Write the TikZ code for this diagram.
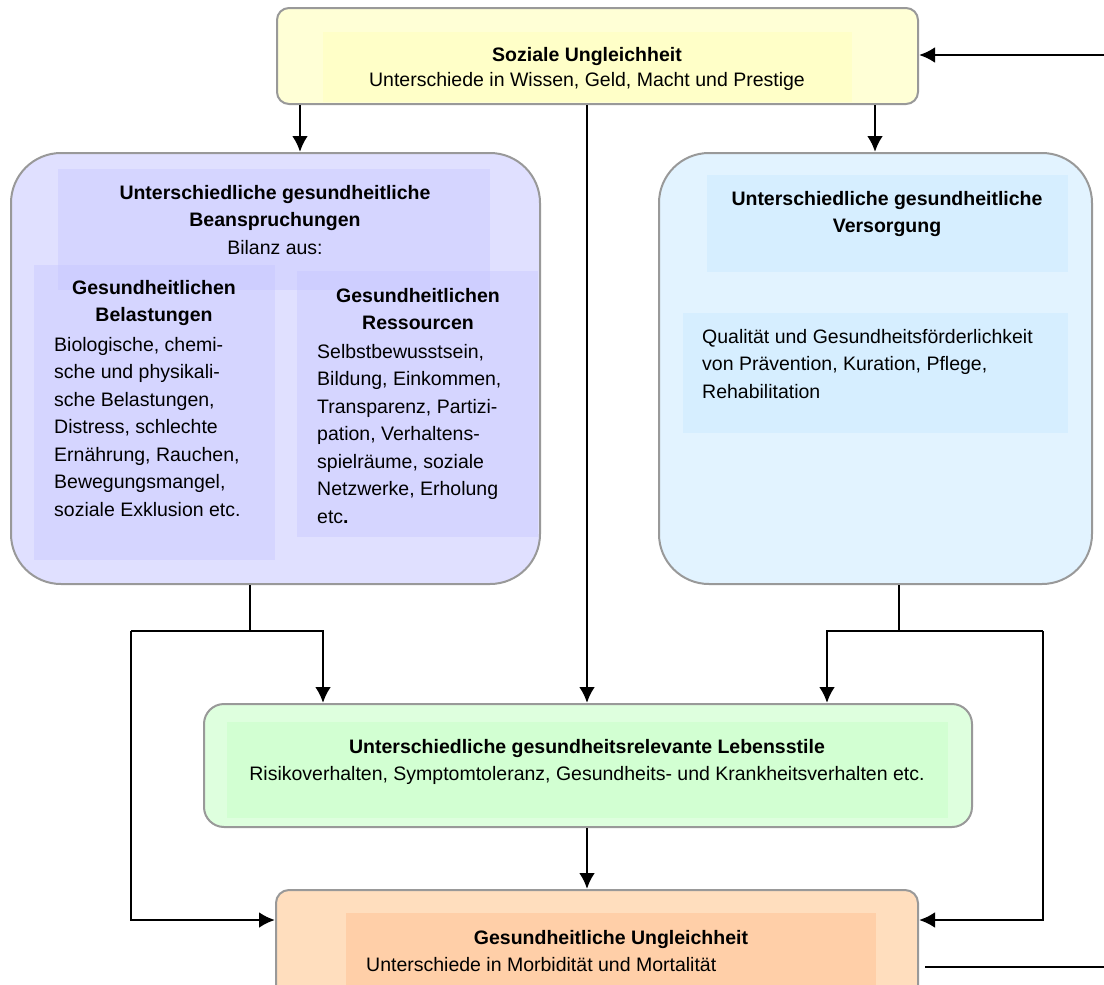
\documentclass[tikz,border=0pt]{standalone}
\usepackage{fontspec}
\setmainfont{Liberation Sans}
\usepackage{tikz}
\usetikzlibrary{arrows.meta}
\usetikzlibrary{positioning}
\definecolor{rahmen}{rgb}{0.6, 0.6, 0.6}
\definecolor{gelb}{RGB}{255, 255, 214}
\definecolor{gelbinnen}{RGB}{255, 255, 200}
\definecolor{lila}{RGB}{224, 224, 255}
\definecolor{lilainnen}{RGB}{190, 190, 255}
\definecolor{hellblau}{RGB}{226, 243, 255}
\definecolor{blauinnen}{RGB}{214, 238, 255}
\definecolor{gruen}{RGB}{222, 255, 222}
\definecolor{grueninnen}{RGB}{210, 255, 210}
\definecolor{orange}{RGB}{255, 222, 190}
\definecolor{orangeinnen}{RGB}{255, 207, 168}
\newcommand{\schrift}{\fontsize{19.5}{27.5}\selectfont}
\tikzset{kasten/.style = {draw = rahmen, line width = 2, anchor = north west,
                          inner sep = 0}}
\tikzset{txt/.style = {inner sep = 0, font = \schrift, anchor = north}}
\tikzset{linie/.style = {line width = 2.9}}
\tikzset{pfeil/.style = {linie, -{Latex[length = 16, width = 16]}}}

\begin{document}
\begin{tikzpicture}[x = 1pt, y = -1pt]
      \clip (0, 0) rectangle (1104, 985);

      % Kaesten
      \node [kasten, fill = gelb, rounded corners = 12,
             minimum width = 641, minimum height = 96] (soz) at (276, 7) {};
      \node [kasten, fill = lila, rounded corners = 50,
             minimum width = 529, minimum height = 431] (belast) at (10, 152) {};
      \node [kasten, fill = hellblau, rounded corners = 50,
             minimum width = 433, minimum height = 431] (versorg) at (658, 152) {};
      \node [kasten, fill = gruen, rounded corners = 20,
             minimum width = 768, minimum height = 123] (lebens) at (203, 703) {};
      \node [kasten, fill = orange, rounded corners = 13,
             minimum width = 642, minimum height = 130] (gesund) at (275, 889) {};

      % Textfelder
      \fill [gelbinnen] (323, 32) rectangle (852, 102);
      \fill [lilainnen, fill opacity = 0.3] (58, 169) rectangle (490, 290);
      \fill [lilainnen, fill opacity = 0.3] (34, 265) rectangle (275, 560);
      \fill [lilainnen, fill opacity = 0.3] (297, 271) rectangle (538, 537);
      \fill [blauinnen] (707, 175) rectangle (1068, 272);
      \fill [blauinnen] (683, 313) rectangle (1068, 433);
      \fill [grueninnen] (227, 722) rectangle (948, 818);
      \fill [orangeinnen] (346, 913) rectangle (876, 1000);

      \node [txt, align = center, font = \fontsize{19.5}{25}\selectfont] (sozt) at (587, 47)
            {\textbf{Soziale Ungleichheit}\\ Unterschiede in Wissen, Geld, Macht und Prestige};

      \node [txt, align = center] (belastt) at (275, 185)
            {\textbf{Unterschiedliche gesundheitliche}\\ \textbf{Beanspruchungen}\\ Bilanz aus:};
      \node [txt, align = center, font = \schrift\bfseries] (lastk) at (154, 280)
            {Gesundheitlichen\\ Belastungen};
      \node [txt, align = left, anchor = north west] (lastt) at (54, 337)
            {Biologische, chemi-\\ sche und physikali-\\ sche Belastungen,\\ Distress, schlechte\\
             Ernährung, Rauchen,\\ Bewegungsmangel,\\ soziale Exklusion etc.};
      \node [txt, align = center, font = \schrift\bfseries] (ressk) at (418, 288)
            {Gesundheitlichen\\ Ressourcen};
      \node [txt, align = left, anchor = north west] (resst) at (317, 344)
            {Selbstbewusstsein,\\ Bildung, Einkommen,\\ Transparenz, Partizi-\\ pation, Verhaltens-\\
             spielräume, soziale\\ Netzwerke, Erholung\\ etc\textbf{.}};

      \node [txt, align = center, font = \schrift\bfseries] (versorgk) at (887, 191)
            {Unterschiedliche gesundheitliche\\ Versorgung};
      \node [txt, align = left, anchor = north west] (versorgt) at (702, 329)
            {Qualität und Gesundheitsförderlichkeit\\ von Prävention, Kuration, Pflege,\\ Rehabilitation};

      \node [txt, align = center] (lebenst) at (587, 739)
            {\textbf{Unterschiedliche gesundheitsrelevante Lebensstile}\\
             Risikoverhalten, Symptomtoleranz, Gesundheits- und Krankheitsverhalten etc.};

      \node [txt, font = \schrift\bfseries] (gesundk) at (611, 930) {Gesundheitliche Ungleichheit};
      \node [txt, anchor = north west] (gesundt) at (366, 957)
            {Unterschiede in Morbidität und Mortalität};

      % Verbindungen
      \coordinate (sl) at (300, 0);
      \coordinate (sr) at (875, 0);
      \coordinate (mitte) at (587, 0);
      \coordinate (jl) at (250, 631);
      \coordinate (al) at (323, 631);
      \coordinate (bl) at (131, 631);
      \coordinate (ml) at (131, 920);
      \coordinate (jr) at (899, 631);
      \coordinate (ar) at (827, 631);
      \coordinate (br) at (1043, 631);
      \coordinate (mr) at (1043, 920);
      \coordinate (ein) at (1104, 55);
      \coordinate (aus) at (1104, 967);

      \draw [pfeil] (soz.south -| sl) -- (belast.north -| sl);
      \draw [pfeil] (soz.south -| sr) -- (versorg.north -| sr);
      \draw [pfeil] (soz.south -| mitte) -- (lebens.north -| mitte);
      \draw [pfeil] (lebens.south -| mitte) -- (gesund.north -| mitte);

      \draw [linie] (belast.south -| jl) -- (jl);
      \draw [pfeil] (bl) -- (al) -- (lebens.north -| al);
      \draw [pfeil] (bl) -- (ml) -- (gesund.west |- ml);

      \draw [linie] (versorg.south -| jr) -- (jr);
      \draw [pfeil] (br) -- (ar) -- (lebens.north -| ar);
      \draw [pfeil] (br) -- (mr) -- (gesund.east |- mr);

      \draw [pfeil] (ein) -- (soz.east |- ein);
      \draw [linie, shorten <= 6] (gesund.east |- aus) -- (aus);
    \end{tikzpicture}
\end{document}
